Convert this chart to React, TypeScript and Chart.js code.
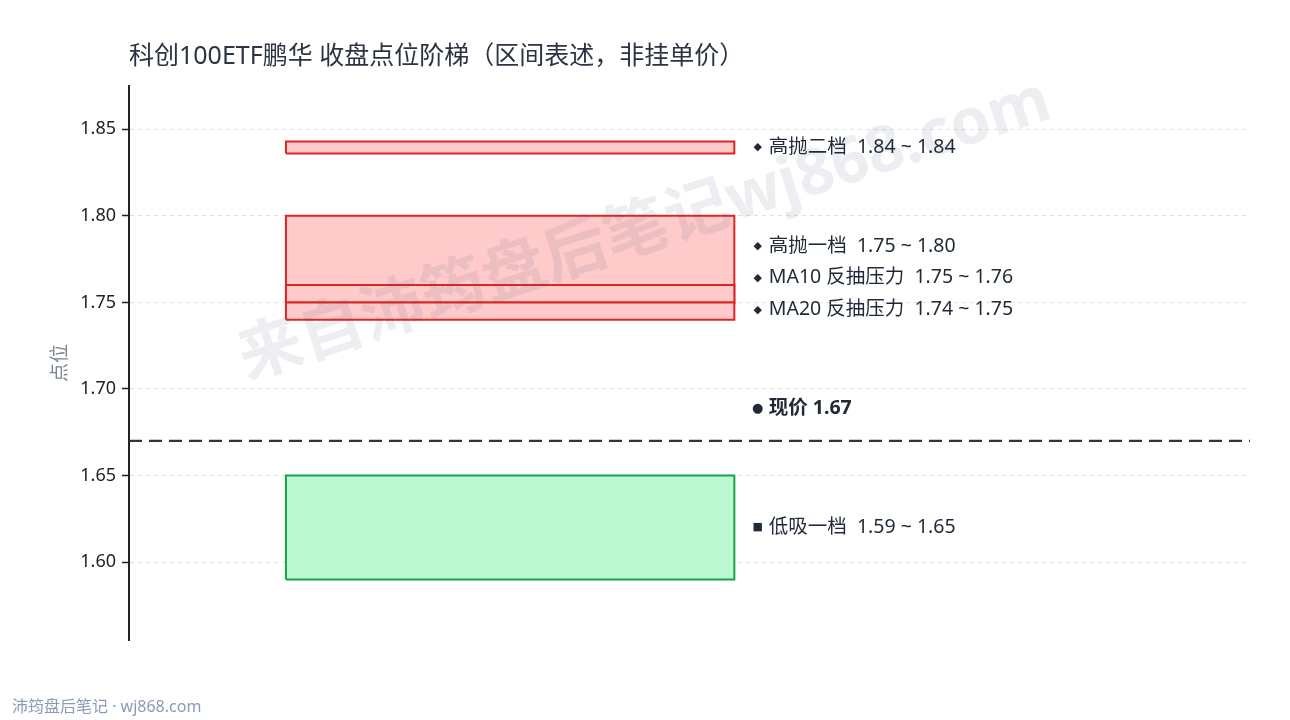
import React, { useEffect, useRef } from 'react';
import { Chart, registerables } from 'chart.js';

Chart.register(...registerables);

// ---- data ----
const zoneNames = ['高抛二档', '高抛一档', 'MA10 反抽压力', 'MA20 反抽压力', '低吸一档'];
const zoneLow = [1.836, 1.75, 1.75, 1.74, 1.59];
const zoneHigh = [1.843, 1.8, 1.76, 1.75, 1.65];
const zoneKind = ['sell', 'sell', 'sell', 'sell', 'buy'];
const zoneLabelLevel = [1.8395, 1.7826, 1.7642, 1.7457, 1.62];
const currentPrice = 1.67;
const priceLabelLevel = 1.6887;
const yTicks = [1.6, 1.65, 1.7, 1.75, 1.8, 1.85];
const yMin = 1.555;
const yMax = 1.875;
const zoneSpan = [0.14, 0.54];
const labelAt = 0.56;

const FONT = '"Noto Sans", "Noto Sans CJK SC", sans-serif';
const TEXT = '#1f2937';

const styleFor = (kind: string) =>
  kind === 'buy'
    ? { fill: '#bbf7d0', border: '#16a34a', marker: '■' }
    : { fill: '#fecaca', border: '#dc2626', marker: '◆' };

const overlayPlugin = {
  id: 'overlay',
  afterDatasetsDraw(chart: any) {
    const { ctx, scales } = chart;
    const x = scales.x;
    const y = scales.y;
    ctx.save();
    // watermark
    ctx.save();
    ctx.translate(chart.width / 2, 231);
    ctx.rotate((-18 * Math.PI) / 180);
    ctx.font = `bold 64px ${FONT}`;
    ctx.fillStyle = 'rgba(71, 85, 115, 0.1)';
    ctx.textAlign = 'center';
    ctx.textBaseline = 'middle';
    ctx.fillText('来自沛筠盘后笔记wj868.com', 0, 0);
    ctx.restore();

    const lx = x.getPixelForValue(labelAt);
    ctx.textBaseline = 'middle';
    zoneNames.forEach((name, i) => {
      const st = styleFor(zoneKind[i]);
      const py = y.getPixelForValue(zoneLabelLevel[i]);
      ctx.fillStyle = TEXT;
      ctx.textAlign = 'center';
      ctx.font = `11px "DejaVu Sans"`;
      ctx.fillText(st.marker, lx + 1, py);
      ctx.textAlign = 'left';
      ctx.font = `19.5px ${FONT}`;
      ctx.fillText(`${name}  ${zoneLow[i].toFixed(2)} ~ ${zoneHigh[i].toFixed(2)}`, lx + 12, py);
    });
    const ppy = y.getPixelForValue(priceLabelLevel);
    ctx.textAlign = 'center';
    ctx.font = `13px "DejaVu Sans"`;
    ctx.fillText('●', lx + 1, ppy);
    ctx.textAlign = 'left';
    ctx.font = `bold 19.5px ${FONT}`;
    ctx.fillText(`现价 ${currentPrice.toFixed(2)}`, lx + 12, ppy);
    ctx.restore();
  },
  afterDraw(chart: any) {
    const { ctx } = chart;
    ctx.save();
    ctx.font = `16px ${FONT}`;
    ctx.fillStyle = '#8b9bb6';
    ctx.textAlign = 'left';
    ctx.textBaseline = 'middle';
    ctx.fillText('沛筠盘后笔记 · wj868.com', 12, 707);
    ctx.restore();
  },
};

export default function App() {
  const ref = useRef<HTMLCanvasElement>(null);
  useEffect(() => {
    document.body.style.margin = '0';
    const zoneSets = zoneNames.map((name, i) => {
      const st = styleFor(zoneKind[i]);
      return {
        label: name,
        data: [
          { x: zoneSpan[0], y: zoneLow[i] },
          { x: zoneSpan[0], y: zoneHigh[i] },
          { x: zoneSpan[1], y: zoneHigh[i] },
          { x: zoneSpan[1], y: zoneLow[i] },
          { x: zoneSpan[0], y: zoneLow[i] },
        ],
        showLine: true,
        borderColor: st.border,
        borderWidth: 2,
        backgroundColor: st.fill,
        fill: 'shape',
        pointRadius: 0,
        pointHoverRadius: 0,
        tension: 0,
        order: 10 - i,
      };
    });
    const priceSet = {
      label: '现价',
      data: [
        { x: 0, y: currentPrice },
        { x: 1, y: currentPrice },
      ],
      showLine: true,
      borderColor: '#2d3440',
      borderWidth: 2.2,
      borderDash: [13, 7],
      fill: false,
      pointRadius: 0,
      pointHoverRadius: 0,
      order: 0,
    };
    const chart = new Chart(ref.current as HTMLCanvasElement, {
      type: 'scatter',
      data: { datasets: [...zoneSets, priceSet] as any },
      options: {
        animation: false,
        responsive: false,
        devicePixelRatio: 1,
        layout: { padding: { left: 0, right: 40, top: 0, bottom: 80 } },
        plugins: {
          legend: { display: false },
          tooltip: { enabled: false },
          title: {
            display: true,
            text: '科创100ETF鹏华 收盘点位阶梯（区间表述，非挂单价）',
            align: 'start',
            fullSize: false,
            color: '#2b3442',
            font: { size: 25, family: FONT, weight: 'normal' },
            padding: { top: 42, bottom: 14 },
          },
        },
        scales: {
          x: { type: 'linear', min: 0, max: 1, display: false },
          y: {
            type: 'linear',
            min: yMin,
            max: yMax,
            afterBuildTicks: (s: any) => {
              s.ticks = yTicks.map((v) => ({ value: v }));
            },
            afterFit: (s: any) => {
              s.width = 129;
            },
            ticks: {
              callback: (v: any) => Number(v).toFixed(2),
              font: { size: 18, family: FONT },
              color: '#222222',
              padding: 6,
            },
            grid: {
              color: '#e0e0e0',
              lineWidth: 1,
              tickColor: '#222222',
              tickLength: 7,
              tickWidth: 1.5,
            },
            border: { color: '#222222', width: 2, dash: [4, 4] },
            title: {
              display: true,
              text: '点位',
              color: '#7b8494',
              font: { size: 19, family: FONT },
              padding: { top: 49, bottom: 0 },
            },
          },
        },
      },
      plugins: [overlayPlugin],
    });
    return () => chart.destroy();
  }, []);
  return (
    <div style={{ width: 1290, height: 720, position: 'relative' }}>
      <canvas ref={ref} width={1290} height={720} style={{ display: 'block' }} />
    </div>
  );
}
